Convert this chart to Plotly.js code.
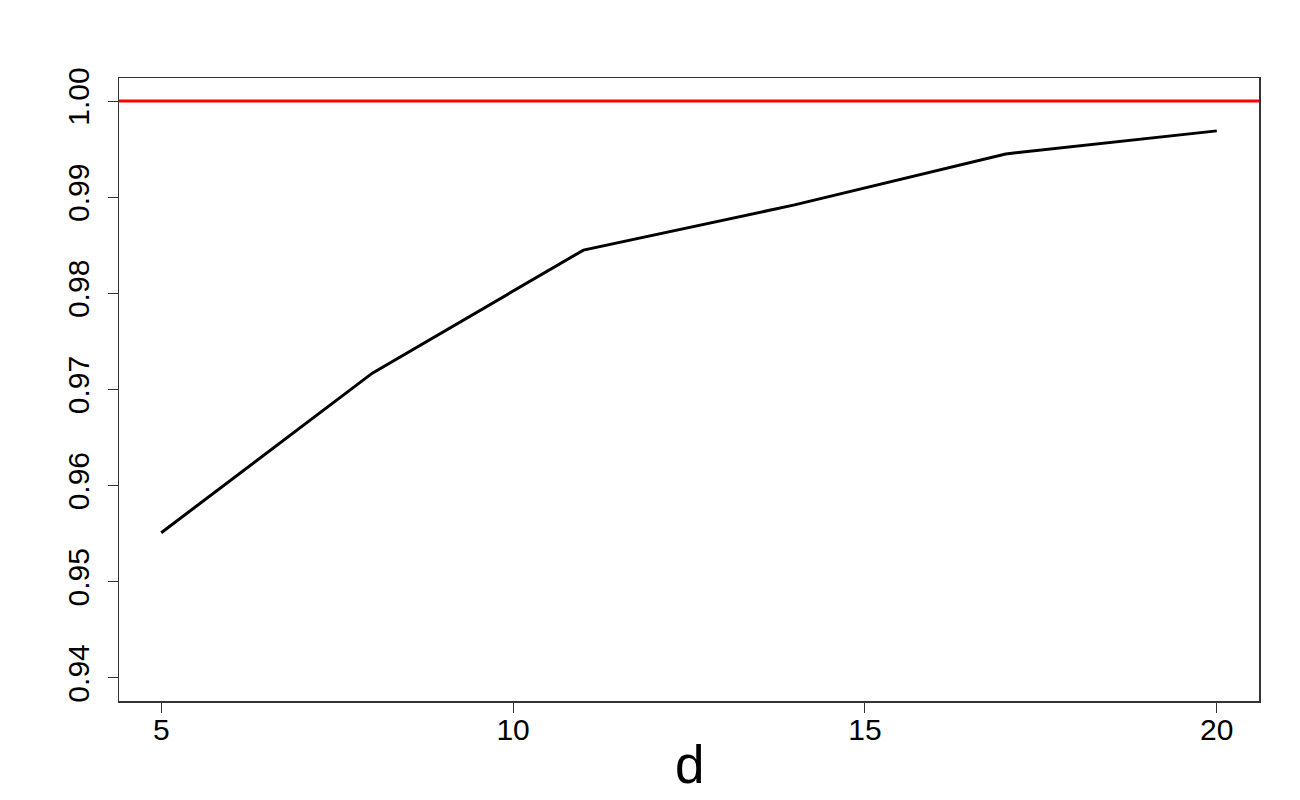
<!DOCTYPE html>
<html>
<head>
<meta charset="utf-8">
<script src="https://cdn.plot.ly/plotly-3.0.1.min.js"></script>
<style>
  html, body { margin: 0; padding: 0; background: white; }
  #graph { width: 1300px; height: 800px; }
</style>
</head>
<body>
<div id="graph"></div>
<script>
// dados
const dValues = [5, 8, 11, 14, 17, 20];
const ratio = [0.9551, 0.9717, 0.9845, 0.9892, 0.9945, 0.9969];
const refLevel = 1.0;
const xTicks = [5, 10, 15, 20];
const yTicks = [0.94, 0.95, 0.96, 0.97, 0.98, 0.99, 1.00];

const curve = {
    x: dValues,
    y: ratio,
    type: 'scatter',
    mode: 'lines',
    line: { color: 'black', width: 3 },
    showlegend: false,
    hoverinfo: 'skip'
};

// linha de referência horizontal (abline h = 1)
const refLine = {
    x: [4.4, 20.6],
    y: [refLevel, refLevel],
    type: 'scatter',
    mode: 'lines',
    line: { color: '#ff0000', width: 3 },
    showlegend: false,
    hoverinfo: 'skip'
};

const fonte = { family: 'Liberation Sans, Arial, sans-serif', color: 'black', size: 30 };

const layout = {
    width: 1300,
    height: 800,
    margin: { l: 119, r: 41, t: 78, b: 99 },
    paper_bgcolor: 'white',
    plot_bgcolor: 'white',
    font: fonte,
    xaxis: {
        range: [4.4, 20.6],
        tickvals: xTicks,
        ticktext: xTicks.map(String),
        ticks: 'outside',
        ticklen: 10,
        tickwidth: 1,
        tickcolor: '#333',
        showline: true,
        mirror: true,
        linecolor: '#333',
        linewidth: 1.5,
        showgrid: false,
        zeroline: false,
        tickfont: fonte,
        ticklabelstandoff: -9
    },
    yaxis: {
        range: [0.9376, 1.0024],
        tickvals: yTicks,
        ticktext: yTicks.map(v => v.toFixed(2)),
        tickangle: -90,
        ticks: 'outside',
        ticklen: 10,
        tickwidth: 1,
        tickcolor: '#333',
        showline: true,
        mirror: true,
        linecolor: '#333',
        linewidth: 1.5,
        showgrid: false,
        zeroline: false,
        tickfont: fonte,
        ticklabelstandoff: 7
    },
    // rótulo do eixo x
    annotations: [{
        text: 'd',
        xref: 'paper', yref: 'paper',
        x: 0.5, y: 0,
        yshift: -63,
        xanchor: 'center', yanchor: 'middle',
        showarrow: false,
        font: { family: fonte.family, size: 53, color: 'black' }
    }]
};

Plotly.newPlot('graph', [refLine, curve], layout, { displayModeBar: false, staticPlot: true });
</script>
</body>
</html>
